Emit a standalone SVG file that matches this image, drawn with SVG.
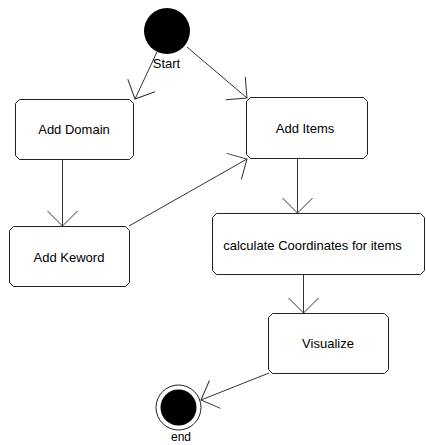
<svg xmlns="http://www.w3.org/2000/svg" width="426" height="445" viewBox="0 0 426 445">
<style>
.box{fill:#fff;stroke:#222;stroke-width:1}
.lbl{font-family:"Liberation Sans",Arial,sans-serif;font-size:13px;fill:#000;text-anchor:middle}
.edge{fill:none;stroke:#333;stroke-width:1}
</style>
<defs>
<marker id="arr" viewBox="-16 -16 17 32" markerWidth="17" markerHeight="32" refX="0" refY="0" markerUnits="userSpaceOnUse" orient="auto">
<path d="M-15,-15 L0,0 L-15,15" fill="none" stroke="#333" stroke-width="1"/>
</marker>
</defs>
<rect width="426" height="445" fill="#fff"/>
<g id="connectors">
<line class="edge" x1="157" y1="52" x2="135" y2="99" marker-end="url(#arr)"/>
<line class="edge" x1="187" y1="47" x2="247" y2="98" marker-end="url(#arr)"/>
<line class="edge" x1="129" y1="226" x2="247" y2="159" marker-end="url(#arr)"/>
<line class="edge" x1="62.5" y1="160" x2="62.5" y2="226" marker-end="url(#arr)"/>
<line class="edge" x1="297.5" y1="158" x2="297.5" y2="213" marker-end="url(#arr)"/>
<line class="edge" x1="303.5" y1="274" x2="303.5" y2="313" marker-end="url(#arr)"/>
<line class="edge" x1="269" y1="373" x2="201" y2="400" marker-end="url(#arr)"/>
</g>
<g id="start">
<circle cx="167" cy="31" r="23" fill="#000"/>
<text class="lbl" x="166.5" y="68">Start</text>
</g>
<g id="addDomain">
<path class="box" d="M19.5,99.5 H129.5 L133.5,103.5 V155.5 L129.5,159.5 H19.5 L15.5,155.5 V103.5 Z"/>
<text class="lbl" x="74" y="134">Add Domain</text>
</g>
<g id="addItems">
<path class="box" d="M250.5,97.5 H363.5 L367.5,101.5 V154.5 L363.5,158.5 H250.5 L246.5,154.5 V101.5 Z"/>
<text class="lbl" x="305" y="133">Add Items</text>
</g>
<g id="addKeword">
<path class="box" d="M13.5,226.5 H125.5 L129.5,230.5 V282.5 L125.5,286.5 H13.5 L9.5,282.5 V230.5 Z"/>
<text class="lbl" x="69" y="262">Add Keword</text>
</g>
<g id="calc">
<path class="box" d="M216.5,213.5 H420.5 L424.5,217.5 V270.5 L420.5,274.5 H216.5 L212.5,270.5 V217.5 Z"/>
<text class="lbl" x="312.5" y="250">calculate Coordinates for items</text>
</g>
<g id="visualize">
<path class="box" d="M272.5,313.5 H384.5 L388.5,317.5 V369.5 L384.5,373.5 H272.5 L268.5,369.5 V317.5 Z"/>
<text class="lbl" x="328" y="348">Visualize</text>
</g>
<g id="end">
<circle cx="178.5" cy="407.5" r="22.5" fill="#fff" stroke="#222" stroke-width="1"/>
<circle cx="178.5" cy="407.5" r="18" fill="#000"/>
<text class="lbl" x="181" y="441" style="font-size:12px">end</text>
</g>
</svg>
